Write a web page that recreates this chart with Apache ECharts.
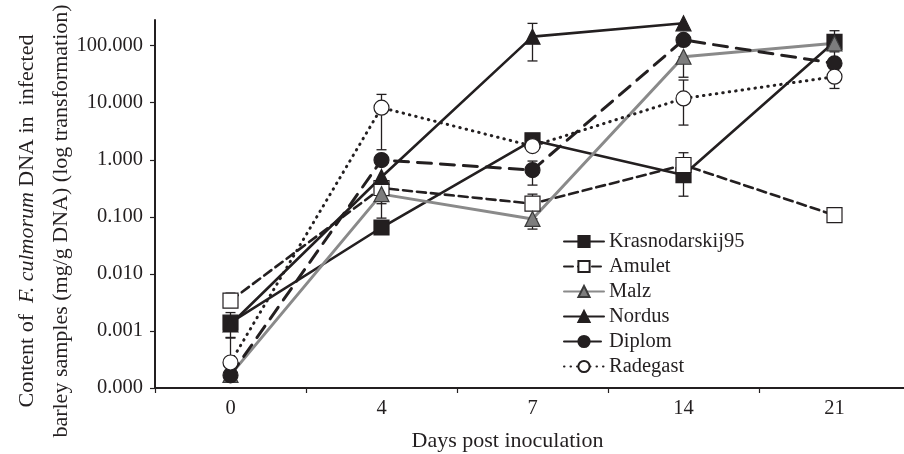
<!DOCTYPE html>
<html>
<head>
<meta charset="utf-8">
<script src="https://cdn.jsdelivr.net/npm/echarts@6/dist/echarts.min.js"></script>
<style>html,body{margin:0;padding:0;background:#fff}#c{width:904px;height:454px}</style>
</head>
<body>
<div id="c"></div>
<script>
const days = ['0', '4', '7', '14', '21'];
const yTicks = [0.0001, 0.001, 0.01, 0.1, 1, 10, 100];

const krasnodarskij95 = [0.0014, 0.065, 2.2, 0.54, 117];
const amulet = [0.0034, 0.32, 0.17, 0.81, 0.107];
const malz = [0.00017, 0.25, 0.092, 64, 110];
const nordus = [0.0013, 0.50, 144, 247, null];
const diplom = [0.000167, 0.99, 0.66, 126, 49];
const radegast = [0.00028, 8.2, 1.74, 11.9, 28.6];

// error bar extents [low, high] per day (null = not shown)
const krasnodarskij95Err = [[0.00077, 0.0021], null, null, [0.23, 0.54], [117, 183]];
const amuletErr = [[0.0034, 0.0046], [0.17, 0.32], [0.17, 0.25], [0.81, 1.33], null];
const malzErr = [null, [0.095, 0.25], [0.061, 0.092], [28, 64], null];
const nordusErr = [null, null, [54, 246], null, null];
const diplomErr = [null, null, [0.36, 0.95], null, [49, 78]];
const radegastErr = [[0.00028, 0.00075], [1.5, 14], null, [4.06, 25], [17.8, 28.6]];

const INK = '#231f20';
const GRAY = '#8a8a8a';
const FONT = 'Liberation Serif';

function errData(errs) {
  const out = [];
  errs.forEach((e, i) => { if (e) out.push([i, e[0], e[1]]); });
  return out;
}

function errSeries(name, errs) {
  return {
    type: 'custom',
    name: name + ' err',
    z: 1,
    silent: true,
    data: errData(errs),
    renderItem: function (params, api) {
      const x = api.value(0);
      const lo = api.coord([x, api.value(1)]);
      const hi = api.coord([x, api.value(2)]);
      const w = 5;
      const st = { stroke: INK, lineWidth: 1.3 };
      return {
        type: 'group',
        children: [
          { type: 'line', shape: { x1: lo[0], y1: lo[1], x2: hi[0], y2: hi[1] }, style: st },
          { type: 'line', shape: { x1: lo[0] - w, y1: lo[1], x2: lo[0] + w, y2: lo[1] }, style: st },
          { type: 'line', shape: { x1: hi[0] - w, y1: hi[1], x2: hi[0] + w, y2: hi[1] }, style: st }
        ]
      };
    }
  };
}

function lineSeries(name, data, symbol, size, fill, lineColor, lineType, width, borderColor) {
  return {
    type: 'line',
    name: name,
    data: data,
    z: 3,
    symbol: symbol,
    symbolSize: size,
    showAllSymbol: true,
    connectNulls: false,
    lineStyle: { color: lineColor, width: width, type: lineType, cap: 'round' },
    itemStyle: { color: fill, borderColor: borderColor || INK, borderWidth: 1.2, opacity: 1 },
    emphasis: { disabled: true },
    animation: false
  };
}

const chart = echarts.init(document.getElementById('c'), null, { renderer: 'canvas' });
chart.setOption({
  animation: false,
  backgroundColor: '#fff',
  grid: { left: 155, right: -6, top: 20, bottom: 66, containLabel: false, outerBoundsMode: 'none' },
  legend: {
    orient: 'vertical',
    left: 558,
    top: 226,
    itemWidth: 40,
    itemHeight: 14,
    itemGap: 4,
    textStyle: { fontFamily: FONT, fontSize: 20.5, color: INK },
    data: ['Krasnodarskij95', 'Amulet', 'Malz', 'Nordus', 'Diplom', 'Radegast']
  },
  xAxis: {
    type: 'category',
    data: days,
    boundaryGap: true,
    name: 'Days post inoculation',
    nameLocation: 'middle',
    nameGap: 42,
    nameMoveOverlap: false,
    nameTextStyle: { fontFamily: FONT, fontSize: 22, color: INK, padding: [0, 50, 0, 0] },
    axisLine: { lineStyle: { color: INK, width: 2 } },
    axisTick: { show: true, alignWithLabel: false, length: 5, lineStyle: { color: INK, width: 1.2 } },
    axisLabel: { fontFamily: FONT, fontSize: 20.5, color: INK, margin: 10 },
    splitLine: { show: false }
  },
  yAxis: {
    type: 'log',
    logBase: 10,
    min: 0.0001,
    max: 282,
    name: '{n|Content of  }{i|F. culmorum}{n| DNA in  infected}\n{n|barley samples (mg/g DNA) (log transformation)}',
    nameLocation: 'middle',
    nameGap: 77,
    nameMoveOverlap: false,
    nameTextStyle: {
      padding: [0, 34, 0, 0],
      lineHeight: 34,
      rich: {
        n: { fontFamily: FONT, fontSize: 22, color: INK, lineHeight: 34 },
        i: { fontFamily: FONT, fontSize: 22, color: INK, fontStyle: 'italic', lineHeight: 34 }
      }
    },
    axisLine: { show: true, lineStyle: { color: INK, width: 2 } },
    axisTick: { show: true, length: 5, inside: false, customValues: yTicks, lineStyle: { color: INK, width: 1.2 } },
    axisLabel: {
      fontFamily: FONT, fontSize: 20.5, color: INK, margin: 12,
      customValues: yTicks,
      formatter: function (v) { return Number(v).toFixed(3); }
    },
    splitLine: { show: false },
    minorTick: { show: false }
  },
  series: [
    errSeries('Krasnodarskij95', krasnodarskij95Err),
    errSeries('Amulet', amuletErr),
    errSeries('Malz', malzErr),
    errSeries('Nordus', nordusErr),
    errSeries('Diplom', diplomErr),
    errSeries('Radegast', radegastErr),
    lineSeries('Krasnodarskij95', krasnodarskij95, 'rect', 15, INK, INK, 'solid', 2.6),
    lineSeries('Amulet', amulet, 'rect', 15, '#ffffff', INK, [9, 5], 2.6),
    lineSeries('Malz', malz, 'triangle', 15, '#7d7d7d', GRAY, 'solid', 3, '#3a3a3a'),
    lineSeries('Nordus', nordus, 'triangle', 15, INK, INK, 'solid', 2.6),
    lineSeries('Diplom', diplom, 'circle', 15, INK, INK, [14, 9], 3),
    lineSeries('Radegast', radegast, 'circle', 15, '#ffffff', INK, [0.5, 6], 3)
  ]
});
</script>
</body>
</html>
